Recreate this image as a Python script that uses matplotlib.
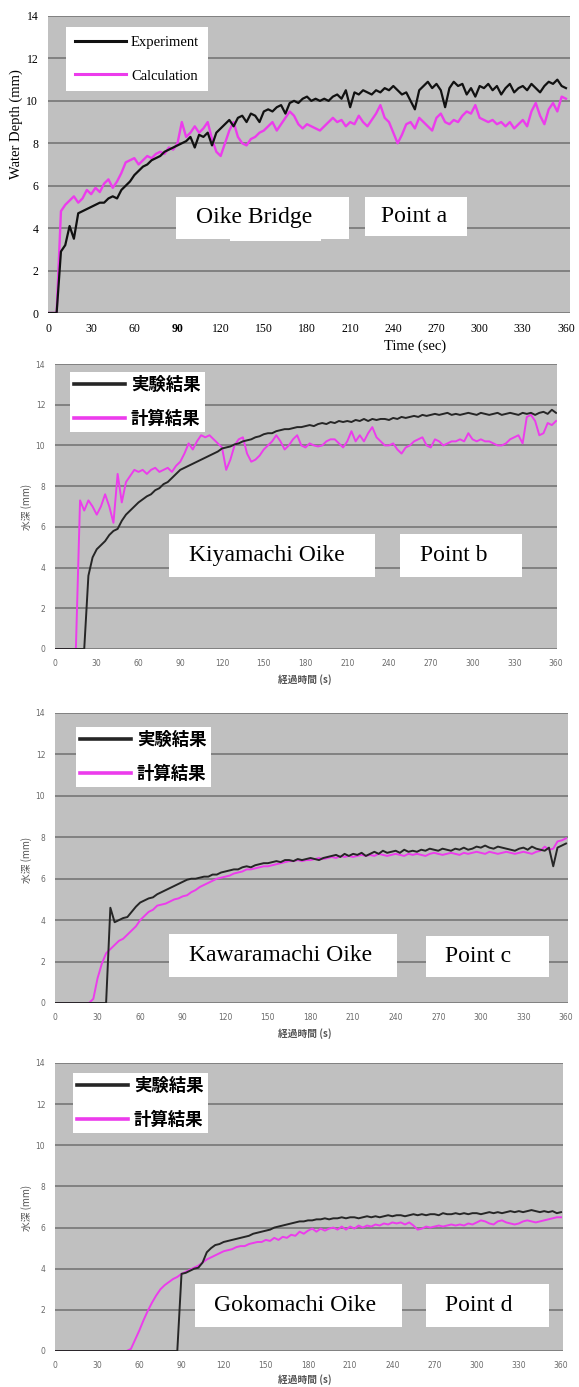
import numpy as np
import matplotlib.pyplot as plt
from matplotlib.patches import Rectangle
from matplotlib.lines import Line2D

W, H = 579, 1387

# sampling times (s), every 3 s from 0 to 360
time_s = np.arange(0, 361, 3)

# Point a - Oike Bridge
exp_a = [0, 0, 0, 2.9, 3.2, 4.1, 3.5, 4.7, 4.8, 4.9,
         5.0, 5.1, 5.2, 5.2, 5.4, 5.5, 5.4, 5.8, 6.0, 6.2,
         6.5, 6.7, 6.9, 7.0, 7.2, 7.3, 7.4, 7.6, 7.7, 7.8,
         7.9, 8.0, 8.1, 8.3, 7.8, 8.4, 8.3, 8.5, 7.9, 8.5,
         8.7, 8.9, 9.1, 8.8, 9.2, 9.3, 9.0, 9.4, 9.3, 9.0,
         9.5, 9.6, 9.5, 9.7, 9.8, 9.4, 9.9, 10.0, 9.9, 10.1,
         10.2, 10.0, 10.1, 10.0, 10.1, 10.0, 10.2, 10.3, 10.1, 10.5,
         9.7, 10.4, 10.3, 10.5, 10.4, 10.3, 10.5, 10.4, 10.6, 10.5,
         10.7, 10.5, 10.3, 10.4, 10.0, 9.6, 10.5, 10.7, 10.9, 10.6,
         10.8, 10.5, 9.7, 10.6, 10.9, 10.7, 10.8, 10.3, 10.6, 10.2,
         10.7, 10.6, 10.8, 10.5, 10.7, 10.3, 10.6, 10.8, 10.4, 10.6,
         10.7, 10.5, 10.8, 10.6, 10.4, 10.7, 10.9, 10.8, 11.0, 10.7,
         10.6]
calc_a = [0, 0, 0, 4.8, 5.1, 5.3, 5.5, 5.2, 5.4, 5.8,
          5.6, 5.9, 5.7, 6.1, 6.3, 5.9, 6.2, 6.6, 7.1, 7.2,
          7.3, 7.0, 7.2, 7.4, 7.3, 7.5, 7.6, 7.5, 7.8, 7.7,
          8.0, 9.0, 8.3, 8.5, 8.8, 8.5, 8.7, 9.0, 8.2, 7.6,
          7.4, 8.0, 8.6, 9.0, 8.3, 8.0, 7.9, 8.2, 8.3, 8.5,
          8.6, 8.8, 9.0, 8.6, 8.9, 9.2, 9.5, 9.3, 8.9, 8.7,
          8.9, 8.8, 8.7, 8.6, 8.8, 9.0, 9.2, 9.0, 9.1, 8.8,
          9.0, 8.9, 9.3, 9.0, 8.8, 9.1, 9.4, 9.8, 9.2, 9.0,
          8.5, 8.0, 8.4, 8.9, 9.0, 8.7, 9.2, 9.0, 8.8, 8.6,
          9.2, 9.4, 9.0, 8.9, 9.1, 9.0, 9.3, 9.5, 9.4, 9.8,
          9.2, 9.1, 9.0, 9.1, 8.9, 9.0, 8.8, 9.0, 8.7, 8.9,
          9.1, 8.8, 9.5, 9.9, 9.3, 8.9, 9.6, 9.9, 9.5, 10.2,
          10.1]

# Point b - Kiyamachi Oike
exp_b = [0, 0, 0, 0, 0, 0, 0, 0, 3.6, 4.5,
         4.9, 5.1, 5.3, 5.6, 5.8, 5.9, 6.3, 6.6, 6.8, 7.0,
         7.2, 7.35, 7.5, 7.6, 7.8, 7.9, 8.1, 8.2, 8.4, 8.6,
         8.8, 8.9, 9.0, 9.1, 9.2, 9.3, 9.4, 9.5, 9.6, 9.7,
         9.85, 9.9, 9.95, 10.05, 10.1, 10.2, 10.25, 10.3, 10.4, 10.45,
         10.55, 10.6, 10.6, 10.7, 10.75, 10.8, 10.8, 10.85, 10.9, 10.9,
         10.95, 11.0, 10.95, 11.05, 11.1, 11.05, 11.15, 11.1, 11.2, 11.15,
         11.2, 11.15, 11.25, 11.2, 11.3, 11.2, 11.3, 11.25, 11.3, 11.3,
         11.25, 11.35, 11.3, 11.4, 11.35, 11.4, 11.45, 11.4, 11.5, 11.45,
         11.5, 11.55, 11.5, 11.55, 11.6, 11.5, 11.55, 11.5, 11.55, 11.6,
         11.55, 11.5, 11.6, 11.55, 11.5, 11.55, 11.6, 11.5, 11.55, 11.6,
         11.55, 11.5, 11.6, 11.55, 11.6, 11.5, 11.6, 11.65, 11.55, 11.75,
         11.6]
calc_b = [0, 0, 0, 0, 0, 0, 7.3, 6.8, 7.3, 7.0,
          6.6, 7.0, 7.6, 7.0, 6.2, 8.6, 7.2, 8.2, 8.5, 8.8,
          8.7, 8.8, 8.6, 8.8, 8.9, 8.7, 8.8, 8.9, 8.7, 9.0,
          9.2, 9.6, 10.1, 9.8, 10.2, 10.5, 10.4, 10.5, 10.3, 10.1,
          9.9, 8.8, 9.3, 10.0, 10.3, 10.4, 9.6, 9.2, 9.3, 9.5,
          9.8, 10.0, 10.2, 10.5, 10.2, 9.8, 10.0, 10.3, 10.5, 10.0,
          9.9, 10.1, 10.0, 9.95, 10.0, 10.2, 10.3, 10.3, 10.1, 9.9,
          10.2, 10.7, 10.2, 10.5, 10.2, 10.6, 10.9, 10.4, 10.2, 10.0,
          10.0, 10.1, 9.8, 9.6, 9.9, 10.0, 10.2, 10.3, 10.4, 10.0,
          9.9, 10.3, 10.2, 10.0, 10.1, 10.2, 10.2, 10.3, 10.2, 10.6,
          10.3, 10.2, 10.3, 10.2, 10.2, 10.1, 10.0, 10.0, 10.1, 10.3,
          10.4, 10.5, 10.1, 11.4, 11.5, 11.2, 10.5, 10.6, 11.1, 11.0,
          11.2]

# Point c - Kawaramachi Oike
exp_c = [0, 0, 0, 0, 0, 0, 0, 0, 0, 0,
         0, 0, 0, 4.6, 3.9, 4.0, 4.1, 4.15, 4.4, 4.65,
         4.85, 4.95, 5.05, 5.1, 5.25, 5.35, 5.45, 5.55, 5.65, 5.75,
         5.85, 5.95, 6.0, 6.0, 6.05, 6.1, 6.1, 6.2, 6.2, 6.3,
         6.35, 6.4, 6.45, 6.45, 6.55, 6.6, 6.55, 6.65, 6.7, 6.75,
         6.75, 6.8, 6.85, 6.8, 6.9, 6.9, 6.85, 6.95, 6.9, 6.95,
         7.0, 6.95, 6.9, 7.0, 7.05, 7.1, 7.15, 7.05, 7.2, 7.1,
         7.2, 7.15, 7.25, 7.1, 7.2, 7.3, 7.2, 7.35, 7.25, 7.3,
         7.35, 7.25, 7.4, 7.3, 7.35, 7.3, 7.4, 7.35, 7.45, 7.4,
         7.35, 7.45, 7.4, 7.35, 7.45, 7.4, 7.5, 7.4, 7.45, 7.55,
         7.5, 7.6, 7.5, 7.45, 7.55, 7.5, 7.45, 7.4, 7.35, 7.45,
         7.5, 7.4, 7.55, 7.45, 7.4, 7.35, 7.5, 6.6, 7.5, 7.6,
         7.7]
calc_c = [0, 0, 0, 0, 0, 0, 0, 0, 0, 0.2,
          1.2, 1.9, 2.4, 2.6, 2.8, 3.0, 3.1, 3.3, 3.5, 3.7,
          4.0, 4.2, 4.4, 4.5, 4.7, 4.75, 4.8, 4.9, 5.0, 5.05,
          5.15, 5.2, 5.35, 5.45, 5.6, 5.7, 5.8, 5.9, 6.0, 6.05,
          6.1, 6.15, 6.25, 6.3, 6.35, 6.45, 6.45, 6.5, 6.55, 6.6,
          6.6, 6.65, 6.7, 6.75, 6.8, 6.85, 6.85, 6.9, 6.85, 6.9,
          6.9, 6.95, 7.0, 6.95, 7.0, 7.05, 7.0, 7.1, 7.05, 7.1,
          7.05, 7.1, 7.15, 7.1, 7.15, 7.1, 7.2, 7.15, 7.1, 7.15,
          7.2, 7.15, 7.1, 7.2, 7.15, 7.2, 7.15, 7.1, 7.2, 7.25,
          7.2, 7.15, 7.2, 7.25, 7.2, 7.15, 7.25, 7.2, 7.25, 7.3,
          7.25, 7.2, 7.3, 7.25, 7.2, 7.25, 7.3, 7.25, 7.2, 7.25,
          7.3, 7.25, 7.2, 7.3, 7.35, 7.55, 7.4, 7.45, 7.8, 7.85,
          7.95]

# Point d - Gokomachi Oike
exp_d = [0, 0, 0, 0, 0, 0, 0, 0, 0, 0,
         0, 0, 0, 0, 0, 0, 0, 0, 0, 0,
         0, 0, 0, 0, 0, 0, 0, 0, 0, 0,
         3.75, 3.8, 3.9, 4.0, 4.05, 4.3, 4.8, 5.0, 5.15, 5.2,
         5.3, 5.35, 5.4, 5.45, 5.5, 5.55, 5.6, 5.7, 5.75, 5.8,
         5.85, 5.9, 6.0, 6.05, 6.1, 6.15, 6.2, 6.25, 6.3, 6.3,
         6.35, 6.35, 6.4, 6.4, 6.45, 6.4, 6.45, 6.45, 6.5, 6.45,
         6.5, 6.5, 6.45, 6.5, 6.55, 6.5, 6.55, 6.5, 6.55, 6.6,
         6.55, 6.6, 6.6, 6.55, 6.6, 6.65, 6.6, 6.65, 6.6, 6.65,
         6.65, 6.6, 6.7, 6.65, 6.65, 6.7, 6.65, 6.7, 6.65, 6.7,
         6.7, 6.65, 6.7, 6.75, 6.7, 6.75, 6.7, 6.75, 6.8, 6.75,
         6.8, 6.75, 6.8, 6.85, 6.8, 6.75, 6.8, 6.75, 6.8, 6.7,
         6.75]
calc_d = [0, 0, 0, 0, 0, 0, 0, 0, 0, 0,
          0, 0, 0, 0, 0, 0, 0, 0, 0.1, 0.55,
          1.0, 1.5, 1.95, 2.35, 2.7, 3.0, 3.2, 3.35, 3.5, 3.6,
          3.75, 3.85, 3.95, 4.05, 4.15, 4.3, 4.45, 4.55, 4.65, 4.75,
          4.85, 4.9, 4.95, 5.05, 5.1, 5.1, 5.2, 5.25, 5.3, 5.3,
          5.4, 5.35, 5.5, 5.4, 5.55, 5.5, 5.65, 5.6, 5.8, 5.7,
          5.85, 5.95, 5.8, 5.95, 5.85, 5.95, 6.0, 5.9, 6.05, 5.9,
          6.05, 5.95, 6.1, 6.0, 6.1, 6.05, 6.15, 6.1, 6.2, 6.15,
          6.25, 6.2, 6.25, 6.15, 6.25, 6.1, 5.9, 5.95, 6.05, 6.0,
          6.05, 6.1, 6.05, 6.1, 6.15, 6.1, 6.15, 6.1, 6.2, 6.15,
          6.25, 6.35, 6.3, 6.2, 6.15, 6.3, 6.35, 6.25, 6.2, 6.15,
          6.2, 6.3, 6.35, 6.3, 6.25, 6.3, 6.35, 6.4, 6.45, 6.5,
          6.5]

x_ticks = list(range(0, 361, 30))
y_ticks = list(range(0, 15, 2))

BG = '#c0c0c0'
GRID = '#7c7c7c'
MAGENTA = '#ec3cec'
SERIF = 'Liberation Serif'
CJK = ['Noto Sans CJK JP', 'DejaVu Sans']

fig = plt.figure(figsize=(W / 100, H / 100), dpi=100)


def px_axes(left, top, right, bottom):
    return fig.add_axes([left / W, 1 - bottom / H, (right - left) / W, (bottom - top) / H])


def fig_text(x, y, s, **kw):
    return fig.text(x / W, 1 - y / H, s, **kw)


def white_box(x0, y0, x1, y1):
    fig.add_artist(Rectangle((x0 / W, 1 - y1 / H), (x1 - x0) / W, (y1 - y0) / H,
                             transform=fig.transFigure, facecolor='white',
                             edgecolor='none', zorder=5))


def base_axes(ax, xmax):
    ax.set_facecolor(BG)
    ax.set_xlim(0, xmax)
    ax.set_ylim(0, 14)
    ax.set_xticks(x_ticks)
    ax.set_yticks(y_ticks)
    ax.grid(axis='y', color=GRID, lw=1.3)
    ax.set_axisbelow(True)
    for sp in ax.spines.values():
        sp.set_visible(False)
    ax.tick_params(length=0, pad=7)


def add_legend(ax, anchor, labels, colors, lw, prop, handlelength, spacing, pad):
    handles = [Line2D([], [], color=c, lw=lw) for c in colors]
    leg = ax.legend(handles, labels, loc='upper left',
                    bbox_to_anchor=(anchor[0] / W, 1 - anchor[1] / H),
                    bbox_transform=fig.transFigure, borderaxespad=0,
                    frameon=True, fancybox=False, framealpha=1,
                    facecolor='white', edgecolor='none', prop=prop,
                    handlelength=handlelength, handletextpad=0.35,
                    labelspacing=spacing, borderpad=pad)
    leg.set_zorder(6)


# ---- top chart: English labels ----
ax = px_axes(48, 16, 570, 313)
base_axes(ax, 362.8)
ax.plot(time_s, calc_a, color=MAGENTA, lw=1.7)
ax.plot(time_s, exp_a, color='#111111', lw=1.6)
ax.set_xticklabels([str(v) for v in x_ticks], family=SERIF, fontsize=8.5)
ax.set_yticklabels([str(v) for v in y_ticks], family=SERIF, fontsize=8.5)
ax.get_xticklabels()[3].set_fontweight('bold')
fig_text(415, 346, 'Time (sec)', family=SERIF, fontsize=10.5, ha='center', va='center')
fig_text(16, 124, 'Water Depth (mm)', family=SERIF, fontsize=10.5, rotation=90,
         ha='center', va='center')
add_legend(ax, (66, 27), ['Experiment', 'Calculation'], ['#111111', MAGENTA], 2.2,
           {'family': SERIF, 'size': 10.5}, 3.5, 1.4, 0.6)

# ---- lower charts: Japanese labels ----
lower = [
    ((55, 364, 557, 649), 360.7, exp_b, calc_b, (70, 372), 680, 507),
    ((55, 713, 568, 1003), 361.4, exp_c, calc_c, (76, 727), 1034, 860),
    ((55, 1063, 563, 1351), 361.4, exp_d, calc_d, (73, 1073), 1380, 1208),
]
for box, xmax, exp, calc, leg_at, xlab_y, ylab_y in lower:
    ax = px_axes(*box)
    base_axes(ax, xmax)
    ax.plot(time_s, calc, color=MAGENTA, lw=1.4)
    ax.plot(time_s, exp, color='#262626', lw=1.4)
    ax.set_xticklabels([str(v) for v in x_ticks], fontsize=5.5, color='#6a6a6a')
    ax.set_yticklabels([str(v) for v in y_ticks], fontsize=5.5, color='#6a6a6a')
    fig_text(305, xlab_y, '経過時間 (s)', family=CJK, fontsize=7, color='#555555',
             weight='bold', ha='center', va='center')
    fig_text(27, ylab_y, '水深 (mm)', family=CJK, fontsize=7, color='#555555',
             rotation=90, ha='center', va='center')
    add_legend(ax, leg_at, ['実験結果', '計算結果'], ['#262626', MAGENTA], 2.6,
               {'family': CJK, 'size': 12.5, 'weight': 'bold'}, 2.9, 0.9, 0.25)

# ---- location name boxes ----
captions = [
    ((176, 197, 349, 239), 196, 'Oike Bridge', (365, 197, 467, 236), 381, 'Point a'),
    ((169, 534, 375, 577), 189, 'Kiyamachi Oike', (400, 534, 522, 577), 420, 'Point b'),
    ((169, 934, 397, 977), 189, 'Kawaramachi Oike', (426, 936, 549, 977), 445, 'Point c'),
    ((195, 1284, 402, 1327), 214, 'Gokomachi Oike', (426, 1284, 549, 1327), 445, 'Point d'),
]
for name_box, name_x, name, pt_box, pt_x, pt in captions:
    white_box(*name_box)
    white_box(*pt_box)
    fig_text(name_x, (name_box[1] + name_box[3]) / 2, name, family=SERIF, fontsize=17,
             ha='left', va='center', zorder=7)
    fig_text(pt_x, (pt_box[1] + pt_box[3]) / 2, pt, family=SERIF, fontsize=17,
             ha='left', va='center', zorder=7)
white_box(230, 236, 321, 241)

fig.savefig('out.png', dpi=100, facecolor='white')
